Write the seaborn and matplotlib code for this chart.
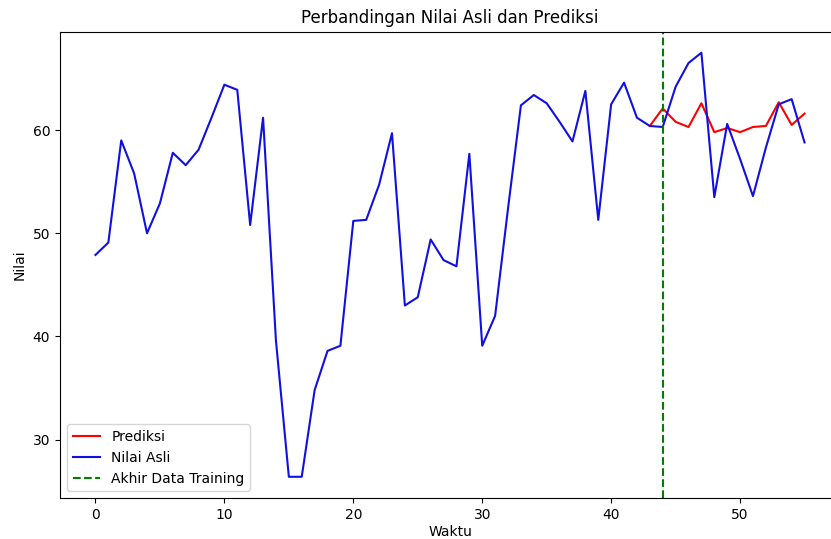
import matplotlib
matplotlib.use("Agg")
import matplotlib.pyplot as plt
import seaborn as sns
import pandas as pd

waktu = list(range(56))
nilai_asli = [47.9, 49.1, 59.0, 55.8, 50.0, 52.9, 57.8, 56.6, 58.1, 61.2,
              64.4, 63.9, 50.8, 61.2, 39.6, 26.4, 26.4, 34.8, 38.6, 39.1,
              51.2, 51.3, 54.7, 59.7, 43.0, 43.8, 49.4, 47.4, 46.8, 57.7,
              39.1, 42.0, 52.4, 62.4, 63.4, 62.6, 60.8, 58.9, 63.8, 51.3,
              62.5, 64.6, 61.2, 60.4, 60.3, 64.2, 66.5, 67.5, 53.5, 60.6,
              57.2, 53.6, 58.3, 62.5, 63.0, 58.8]
waktu_prediksi = list(range(43, 56))
prediksi = [60.4, 62.1, 60.8, 60.3, 62.6, 59.8, 60.2, 59.8, 60.3, 60.4,
            62.7, 60.5, 61.6]
akhir_training = 44

df_asli = pd.DataFrame({"Waktu": waktu, "Nilai": nilai_asli})
df_pred = pd.DataFrame({"Waktu": waktu_prediksi, "Nilai": prediksi})

fs = 10
fig = plt.figure(figsize=(8.31, 5.39), dpi=100)
ax = fig.add_axes([60 / 831, 1 - 498 / 539, 780 / 831, 466.5 / 539])

sns.lineplot(data=df_pred, x="Waktu", y="Nilai", color="red", label="Prediksi", ax=ax, linewidth=1.5)
sns.lineplot(data=df_asli, x="Waktu", y="Nilai", color="#1010e0", label="Nilai Asli", ax=ax, linewidth=1.5)
ax.axvline(akhir_training, color="green", linestyle="--", label="Akhir Data Training", linewidth=1.5)

ax.set_title("Perbandingan Nilai Asli dan Prediksi", fontsize=12)
ax.set_xlabel("Waktu", fontsize=fs, labelpad=2)
ax.set_ylabel("Nilai", fontsize=fs)
ax.tick_params(labelsize=fs)
ax.set_xticks([0, 10, 20, 30, 40, 50])
ax.set_yticks([30, 40, 50, 60])
ax.spines["right"].set_visible(False)
ax.legend(loc="lower left", fontsize=fs)

fig.savefig("out.png", dpi=100)
